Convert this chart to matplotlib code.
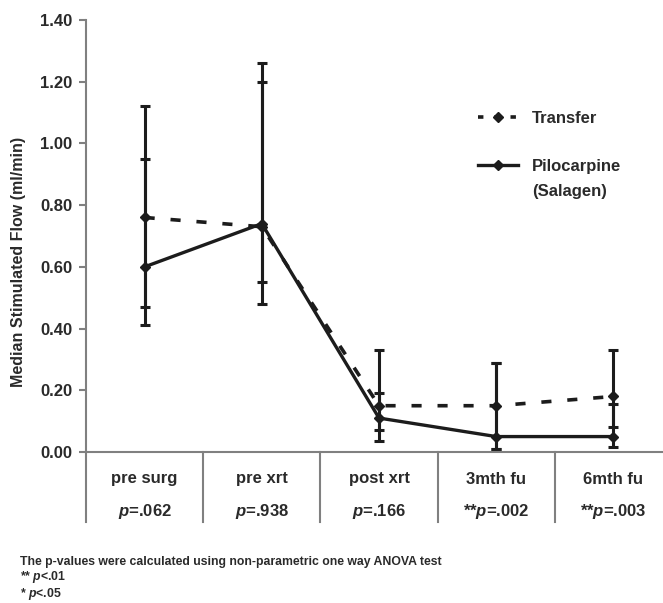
import numpy as np
import matplotlib.pyplot as plt
from matplotlib.lines import Line2D

plt.rcParams['font.family'] = ['Liberation Sans', 'DejaVu Sans']
plt.rcParams['font.weight'] = 'bold'
plt.rcParams['mathtext.fontset'] = 'custom'
plt.rcParams['mathtext.it'] = 'Liberation Sans:italic:bold'
plt.rcParams['mathtext.rm'] = 'Liberation Sans:bold'

stages = ['pre surg', 'pre xrt', 'post xrt', '3mth fu', '6mth fu']
stars = ['', '', '', '**', '**']
p_vals = ['.062', '.938', '.166', '.002', '.003']

transfer = np.array([0.76, 0.73, 0.15, 0.15, 0.18])
transfer_lo = np.array([0.47, 0.55, 0.07, 0.01, 0.08])
transfer_hi = np.array([0.95, 1.20, 0.19, 0.29, 0.33])
pilo = np.array([0.60, 0.74, 0.11, 0.05, 0.05])
pilo_lo = np.array([0.41, 0.48, 0.035, 0.01, 0.015])
pilo_hi = np.array([1.12, 1.26, 0.33, 0.29, 0.155])

ink = '#1c1c1c'
grey = '#808080'
txt = '#2a2a2a'

fig = plt.figure(figsize=(6.63, 6.03), dpi=100)
ax = fig.add_axes([86/663, 151/603, 1 - 86/663, 432/603])
x = np.arange(len(stages))

ax.errorbar(x, transfer, yerr=[transfer - transfer_lo, transfer_hi - transfer], fmt='none',
            ecolor=ink, elinewidth=2.2, capsize=3.6, capthick=2.2)
ax.errorbar(x, pilo, yerr=[pilo - pilo_lo, pilo_hi - pilo], fmt='none',
            ecolor=ink, elinewidth=2.2, capsize=3.6, capthick=2.2)
ax.plot(x, transfer, color=ink, lw=2.6, dashes=(2.8, 4.4), marker='D', ms=5)
ax.plot(x, pilo, color=ink, lw=2.4, marker='D', ms=5)

ax.set_xlim(-0.5, 4.423)
ax.set_ylim(0, 1.4)
ax.set_yticks(np.arange(0, 1.41, 0.2))
ax.set_yticklabels([f'{v:.2f}' for v in np.arange(0, 1.41, 0.2)], fontsize=12, color=txt)
ax.set_xticks([])
ax.tick_params(axis='y', direction='out', length=5, width=1.5, color=grey, pad=5)
for s in ['top', 'right']:
    ax.spines[s].set_visible(False)
for s in ['left', 'bottom']:
    ax.spines[s].set_color(grey)
    ax.spines[s].set_linewidth(1.5)

# table under the axis
trans = ax.get_xaxis_transform()
for b in np.arange(-0.5, len(stages), 1):
    ax.plot([b, b], [0, -0.162], transform=trans, clip_on=False, color=grey, lw=1.5)
for i, st in enumerate(stages):
    ax.text(i, -0.0625, st, transform=trans, ha='center', va='center', fontsize=12, color=txt)
    ax.text(i, -0.137, stars[i] + r'$p$=' + p_vals[i], transform=trans, ha='center', va='center',
            fontsize=12, color=txt)

fig.text(19/663, 1 - 262/603, 'Median Stimulated Flow (ml/min)', rotation=90,
         ha='center', va='center', fontsize=11.5, color=txt)

handles = [Line2D([], [], color=ink, lw=2.6, dashes=(1.5, 3), marker='D', ms=5, markevery=[1]),
           Line2D([], [], color=ink, lw=2.4, marker='D', ms=5)]
leg = ax.legend(handles, ['Transfer', 'Pilocarpine'], loc='upper left', frameon=False,
                bbox_to_anchor=(478/663, 1 - 111/603), bbox_transform=fig.transFigure,
                borderpad=0, borderaxespad=0, handlelength=2.4, handletextpad=0.85,
                labelspacing=2.0, prop={'size': 12, 'weight': 'bold'})
for t in leg.get_texts():
    t.set_color(txt)
ax.annotate('(Salagen)', xy=(0, 0), xycoords=leg.get_texts()[1], xytext=(0, -7),
            textcoords='offset points', ha='left', va='top', fontsize=12, color=txt, zorder=10)

note = ('The p-values were calculated using non-parametric one way ANOVA test\n'
        r'** $p$<.01' + '\n' + r'* $p$<.05')
fig.text(20/663, 1 - 556/603, note, fontsize=8.8, va='top', ha='left',
         linespacing=1.1, color=txt)

fig.savefig('out.png', dpi=100)
